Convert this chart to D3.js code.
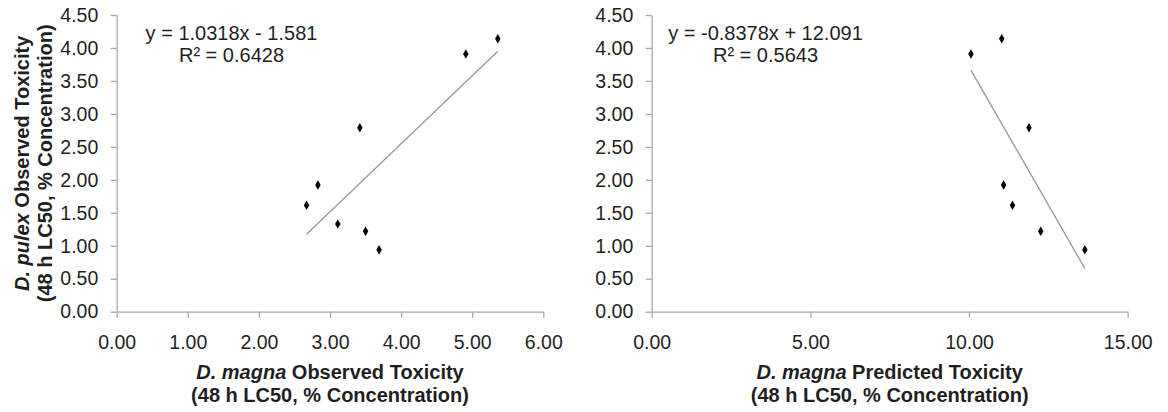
<!DOCTYPE html>
<html><head><meta charset="utf-8">
<script src="https://cdn.jsdelivr.net/npm/d3@7"></script>
<style>body{margin:0;background:#fff}svg{display:block}text{font-family:"Liberation Sans",Arial,sans-serif;fill:#1f1f1f}</style>
</head><body><svg id="c" width="1168" height="412"></svg>
<script>
// Data
const observedMagna = [2.67, 2.83, 3.11, 3.42, 3.50, 3.69, 4.91, 5.36];
const observedPulexL = [1.615, 1.92, 1.33, 2.79, 1.22, 0.94, 3.91, 4.14];
const predictedMagna = [10.06, 11.03, 11.89, 11.09, 11.37, 12.26, 13.65];
const observedPulexR = [3.91, 4.14, 2.79, 1.92, 1.615, 1.22, 0.94];
const yTicks = [0, 0.5, 1, 1.5, 2, 2.5, 3, 3.5, 4, 4.5];
const xTicksL = [0, 1, 2, 3, 4, 5, 6];
const xTicksR = [0, 5, 10, 15];
const fitL = {slope: 1.0318, intercept: -1.581, eq: "y = 1.0318x - 1.581", r2: "R² = 0.6428"};
const fitR = {slope: -0.8378, intercept: 12.091, eq: "y = -0.8378x + 12.091", r2: "R² = 0.5643"};

const svg = d3.select("#c");
const plotTop = 15, plotBottom = 311.7;

function panel(x0, x1, xmax, xticks, xs, ys, fit, xTitleTail, showYTitle, eqX) {
  const g = svg.append("g");
  const x = d3.scaleLinear().domain([0, xmax]).range([x0, x1]);
  const y = d3.scaleLinear().domain([0, 4.5]).range([plotBottom, plotTop]);
  const xa = g.append("g").attr("transform", `translate(0,${plotBottom})`)
    .call(d3.axisBottom(x).tickValues(xticks).tickFormat(d3.format(".2f")).tickSize(6).tickPadding(17).tickSizeOuter(0));
  const ya = g.append("g").attr("transform", `translate(${x0},0)`)
    .call(d3.axisLeft(y).tickValues(yTicks).tickFormat(d3.format(".2f")).tickSize(6).tickPadding(12.4).tickSizeOuter(0));
  [xa, ya].forEach(a => {
    a.selectAll("path,line").attr("stroke", "#a8a8a8").attr("stroke-width", 1.3);
    a.selectAll("text").style("font-size", "19.5px").style("fill", "#1f1f1f");
  });
  const xmin = d3.min(xs), xmx = d3.max(xs);
  g.append("line")
    .attr("x1", x(xmin)).attr("y1", y(fit.slope * xmin + fit.intercept))
    .attr("x2", x(xmx)).attr("y2", y(fit.slope * xmx + fit.intercept))
    .attr("stroke", "#9a9a9a").attr("stroke-width", 1.4);
  g.selectAll(".pt").data(xs.map((d, i) => [d, ys[i]])).enter().append("path")
    .attr("d", d3.symbol().type(d3.symbolDiamond).size(26))
    .attr("transform", d => `translate(${x(d[0])},${y(d[1])})`)
    .attr("fill", "#000");
  g.append("text").attr("x", eqX).attr("y", 40).attr("text-anchor", "middle").style("font-size", "20px").text(fit.eq);
  g.append("text").attr("x", eqX).attr("y", 62).attr("text-anchor", "middle").style("font-size", "20px").text(fit.r2);
  const cx = (x0 + x1) / 2;
  const t1 = g.append("text").attr("x", cx).attr("y", 379).attr("text-anchor", "middle").style("font-size", "20px").style("font-weight", "bold");
  t1.append("tspan").style("font-style", "italic").text("D. magna");
  t1.append("tspan").text(" " + xTitleTail);
  g.append("text").attr("x", cx).attr("y", 402).attr("text-anchor", "middle").style("font-size", "20px").style("font-weight", "bold").text("(48 h LC50, % Concentration)");
  if (showYTitle) {
    const cy = (plotTop + plotBottom) / 2;
    const yt = g.append("text").attr("transform", `translate(29,${cy}) rotate(-90)`).attr("text-anchor", "middle").style("font-size", "20px").style("font-weight", "bold");
    yt.append("tspan").style("font-style", "italic").text("D. pulex");
    yt.append("tspan").text(" Observed Toxicity");
    g.append("text").attr("transform", `translate(52,${cy}) rotate(-90)`).attr("text-anchor", "middle").style("font-size", "20px").style("font-weight", "bold").text("(48 h LC50, % Concentration)");
  }
}
panel(116.7, 543.3, 6, xTicksL, observedMagna, observedPulexL, fitL, "Observed Toxicity", true, 231.5);
panel(651.7, 1127.7, 15, xTicksR, predictedMagna, observedPulexR, fitR, "Predicted Toxicity", false, 765.5);
</script></body></html>
